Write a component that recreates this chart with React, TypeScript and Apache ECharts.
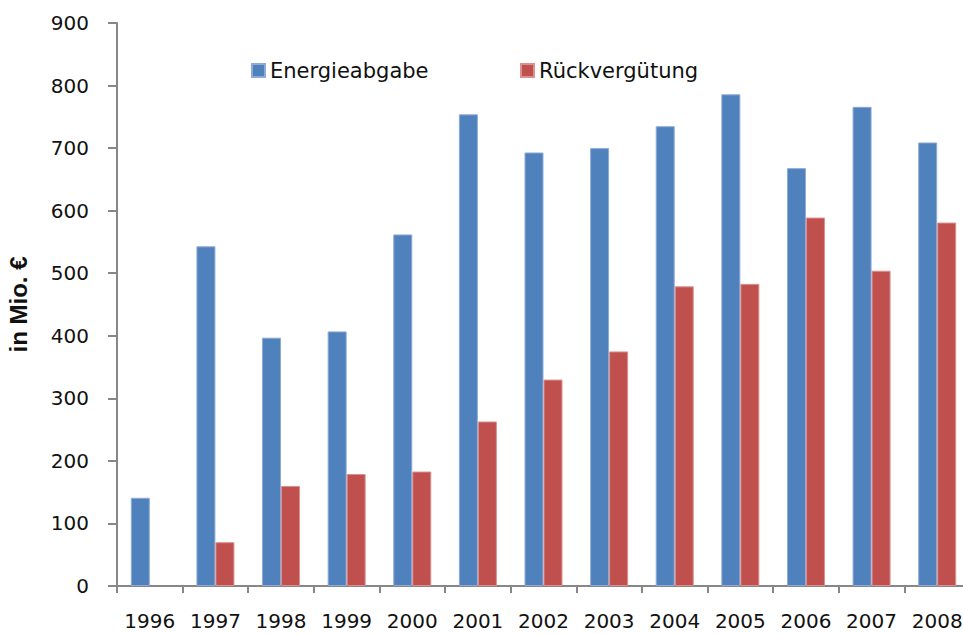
import React, { useEffect, useRef } from "react";
import * as echarts from "echarts";

const categories = ["1996", "1997", "1998", "1999", "2000", "2001", "2002", "2003", "2004", "2005", "2006", "2007", "2008"];
const energieabgabe = [141, 543, 397, 407, 562, 754, 693, 700, 735, 786, 668, 766, 709];
const rueckverguetung = [null, 70, 160, 179, 183, 263, 330, 375, 479, 483, 589, 504, 581];
const seriesNames = ["Energieabgabe", "Rückvergütung"];
const yAxisName = "in Mio. €";

export default function App() {
  const ref = useRef<HTMLDivElement>(null);
  useEffect(() => {
    if (!ref.current) return;
    const chart = echarts.init(ref.current, null, { renderer: "svg" });
    const font = "'DejaVu Sans', sans-serif";
    const boldFont = "'Liberation Sans', Arial, sans-serif";
    const axisColor = "#878787";
    chart.setOption({
      animation: false,
      backgroundColor: "#ffffff",
      textStyle: { fontFamily: font },
      grid: { left: 117, top: 23, width: 853, bottom: 48, containLabel: false, outerBoundsMode: "none" },
      legend: [
        {
          data: [seriesNames[0]],
          left: 246,
          top: 55,
          itemWidth: 13,
          itemHeight: 13,
          icon: "rect",
          textStyle: { fontSize: 21, color: "#111", fontFamily: font },
        },
        {
          data: [seriesNames[1]],
          left: 515,
          top: 55,
          itemWidth: 13,
          itemHeight: 13,
          icon: "rect",
          textStyle: { fontSize: 21, color: "#111", fontFamily: font },
        },
      ],
      xAxis: {
        type: "category",
        data: categories,
        axisLine: { show: true, lineStyle: { color: axisColor, width: 2 } },
        axisTick: { show: true, length: 7, lineStyle: { color: axisColor, width: 2 } },
        axisLabel: { color: "#111", fontSize: 20, margin: 25, fontFamily: font, interval: 0 },
        splitLine: { show: false },
      },
      yAxis: {
        type: "value",
        min: 0,
        max: 900,
        interval: 100,
        name: yAxisName,
        nameLocation: "middle",
        nameGap: 87,
        nameTextStyle: { fontSize: 24, fontWeight: "bold", color: "#111", fontFamily: boldFont },
        axisLine: { show: true, lineStyle: { color: axisColor, width: 2 } },
        axisTick: { show: true, length: 9, lineStyle: { color: axisColor, width: 2 } },
        axisLabel: { color: "#111", fontSize: 20, margin: 28, fontFamily: font },
        splitLine: { show: false },
      },
      series: [
        {
          name: seriesNames[0],
          type: "bar",
          data: energieabgabe,
          barWidth: 19,
          barGap: "0%",
          itemStyle: { color: "#4F81BD", borderColor: "#8FAAD6", borderWidth: 1 },
        },
        {
          name: seriesNames[1],
          type: "bar",
          data: rueckverguetung,
          barWidth: 19,
          barGap: "0%",
          itemStyle: { color: "#C0504D", borderColor: "#DA908E", borderWidth: 1 },
        },
      ],
    });
    return () => chart.dispose();
  }, []);
  return <div ref={ref} style={{ width: 963, height: 634, position: "absolute", left: 0, top: 0 }} />;
}
